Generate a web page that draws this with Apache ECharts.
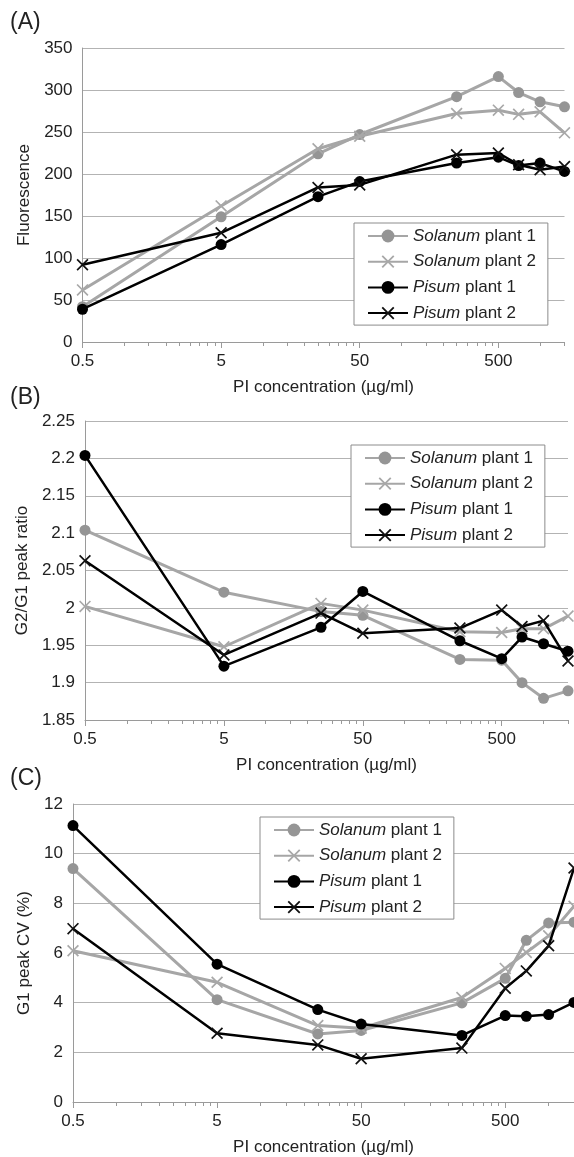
<!DOCTYPE html>
<html>
<head>
<meta charset="utf-8">
<script src="https://cdn.jsdelivr.net/npm/echarts@6/dist/echarts.min.js"></script>
<style>
  html, body { margin: 0; padding: 0; background: #fff; }
  #chart { width: 574px; height: 1157px; }
</style>
</head>
<body>
<div id="chart"></div>
<script>
// PI concentration (µg/ml)
const conc = [0.5, 5, 25, 50, 250, 500, 700, 1000, 1500]
const majorTicks = [0.5, 5, 50, 500]
const minorTicks = [1, 1.5, 2, 2.5, 3, 3.5, 4, 4.5, 10, 15, 20, 25, 30, 35, 40, 45,
  100, 150, 200, 250, 300, 350, 400, 450, 1000, 1500]

const seriesNames = ['Solanum plant 1', 'Solanum plant 2', 'Pisum plant 1', 'Pisum plant 2']

// (A) fluorescence
const fluorSol1 = [42, 149, 224, 247, 292, 316, 297, 286, 280]
const fluorSol2 = [62, 162, 230, 245, 272, 276, 271, 274, 249]
const fluorPis1 = [39, 116, 173, 191, 213, 220, 210, 213, 203]
const fluorPis2 = [92, 130, 184, 187, 223, 225, 211, 205, 209]

// (B) G2/G1 peak ratio
const ratioSol1 = [2.104, 2.021, 1.995, 1.990, 1.931, 1.930, 1.900, 1.879, 1.889]
const ratioSol2 = [2.002, 1.948, 2.006, 1.997, 1.968, 1.967, 1.972, 1.972, 1.989]
const ratioPis1 = [2.204, 1.922, 1.974, 2.022, 1.956, 1.932, 1.961, 1.952, 1.942]
const ratioPis2 = [2.063, 1.937, 1.993, 1.966, 1.973, 1.997, 1.975, 1.983, 1.929]

// (C) G1 peak CV (%)
const cvSol1 = [9.40, 4.12, 2.74, 2.88, 3.99, 4.98, 6.51, 7.21, 7.24]
const cvSol2 = [6.09, 4.82, 3.08, 2.97, 4.21, 5.38, 6.02, 6.69, 7.88]
const cvPis1 = [11.13, 5.55, 3.72, 3.14, 2.68, 3.48, 3.45, 3.52, 4.01]
const cvPis2 = [6.98, 2.77, 2.30, 1.74, 2.17, 4.58, 5.28, 6.29, 9.42]

const FONT = '"Liberation Sans", Arial, sans-serif'
const FS = 17
const TEXT = '#222'
const AXIS = '#9a9a9a'
const GRAY_LINE = '#a6a6a6'
const GRAY_DOT = '#959595'
const CROSS = 'path://M0,0.1 L0.1,0 L1,0.9 L0.9,1 Z M0.9,0 L1,0.1 L0.1,1 L0,0.9 Z'

const styles = [
  { color: GRAY_LINE, dot: GRAY_DOT, symbol: 'circle', size: 11, width: 3 },
  { color: GRAY_LINE, dot: '#a8a8a8', symbol: CROSS, size: 12, width: 3 },
  { color: '#000', dot: '#000', symbol: 'circle', size: 11, width: 2.5 },
  { color: '#000', dot: '#111', symbol: CROSS, size: 12, width: 2.5 }
]

const panels = [
  { label: '(A)', labelTop: 11, grid: { left: 82.5, top: 48, width: 482, height: 294 },
    yName: 'Fluorescence', yGap: 48, yMin: 0, yMax: 350, yStep: 50,
    data: [fluorSol1, fluorSol2, fluorPis1, fluorPis2],
    legend: { left: 354, top: 223 } },
  { label: '(B)', labelTop: 386, grid: { left: 85, top: 421, width: 483, height: 299 },
    yName: 'G2/G1 peak ratio', yGap: 50, yMin: 1.85, yMax: 2.25, yStep: 0.05,
    data: [ratioSol1, ratioSol2, ratioPis1, ratioPis2],
    legend: { left: 351, top: 445 } },
  { label: '(C)', labelTop: 767, grid: { left: 73, top: 804, width: 501, height: 299 },
    yName: 'G1 peak CV (%)', yGap: 39, yMin: 0, yMax: 12, yStep: 2,
    data: [cvSol1, cvSol2, cvPis1, cvPis2],
    legend: { left: 260, top: 817 } }
]

const option = {
  animation: false,
  backgroundColor: '#fff',
  textStyle: { fontFamily: FONT },
  title: [],
  grid: [],
  xAxis: [],
  yAxis: [],
  legend: [],
  series: []
}

panels.forEach((p, i) => {
  option.title.push({
    text: p.label, left: 10, top: p.labelTop, padding: 0,
    textStyle: { fontFamily: FONT, fontSize: 23, fontWeight: 'normal', color: TEXT }
  })
  option.grid.push(Object.assign({ containLabel: false }, p.grid))

  // major ticks + labels
  option.xAxis.push({
    type: 'log', logBase: 10, gridIndex: i, position: 'bottom',
    min: 0.5, max: 1500,
    name: 'PI concentration (\u00b5g/ml)', nameLocation: 'middle', nameGap: 37,
    nameTextStyle: { fontFamily: FONT, fontSize: FS, color: TEXT },
    axisLine: { lineStyle: { color: AXIS, width: 1 } },
    axisTick: { show: true, inside: false, length: 6, customValues: majorTicks,
      lineStyle: { color: AXIS } },
    axisLabel: { customValues: majorTicks, margin: 11, fontFamily: FONT, fontSize: FS, color: TEXT },
    splitLine: { show: false },
    minorTick: { show: false }
  })
  // minor ticks only
  option.xAxis.push({
    type: 'log', logBase: 10, gridIndex: i, position: 'bottom',
    min: 0.5, max: 1500,
    axisLine: { show: false },
    axisTick: { show: true, length: 4, customValues: minorTicks,
      lineStyle: { color: AXIS } },
    axisLabel: { show: false },
    splitLine: { show: false }
  })

  option.yAxis.push({
    type: 'value', gridIndex: i,
    min: p.yMin, max: p.yMax, interval: p.yStep,
    name: p.yName, nameLocation: 'middle', nameGap: p.yGap, nameRotate: 90,
    nameTextStyle: { fontFamily: FONT, fontSize: FS, color: TEXT },
    axisLine: { show: true, lineStyle: { color: AXIS, width: 1 } },
    axisTick: { show: false },
    axisLabel: { margin: 10, fontFamily: FONT, fontSize: FS, color: TEXT },
    splitLine: { show: true, lineStyle: { color: '#b3b3b3', width: 1 } }
  })

  option.legend.push({
    orient: 'vertical', left: p.legend.left, top: p.legend.top,
    data: seriesNames.map(n => n + ' ' + p.label),
    selectedMode: false,
    backgroundColor: '#fff',
    borderColor: '#8c8c8c', borderWidth: 1, borderRadius: 0,
    padding: [4, 12, 3, 13],
    itemWidth: 40, itemHeight: 16, itemGap: 7.7,
    formatter: name => {
      const parts = name.split(' ')
      return '{i|' + parts[0] + '} ' + parts[1] + ' ' + parts[2]
    },
    textStyle: {
      fontFamily: FONT, fontSize: FS, color: TEXT, lineHeight: 18,
      rich: { i: { fontStyle: 'italic', fontFamily: FONT, fontSize: FS, color: TEXT, lineHeight: 18 } }
    }
  })

  p.data.forEach((vals, k) => {
    const s = styles[k]
    option.series.push({
      name: seriesNames[k] + ' ' + p.label,
      type: 'line',
      xAxisIndex: i * 2, yAxisIndex: i,
      data: conc.map((c, j) => [c, vals[j]]),
      symbol: s.symbol, symbolSize: s.size,
      lineStyle: { color: s.color, width: s.width },
      itemStyle: { color: s.dot },
      z: 2 + k
    })
  })
})

const chart = echarts.init(document.getElementById('chart'), null, { renderer: 'canvas' })
chart.setOption(option)
</script>
</body>
</html>
